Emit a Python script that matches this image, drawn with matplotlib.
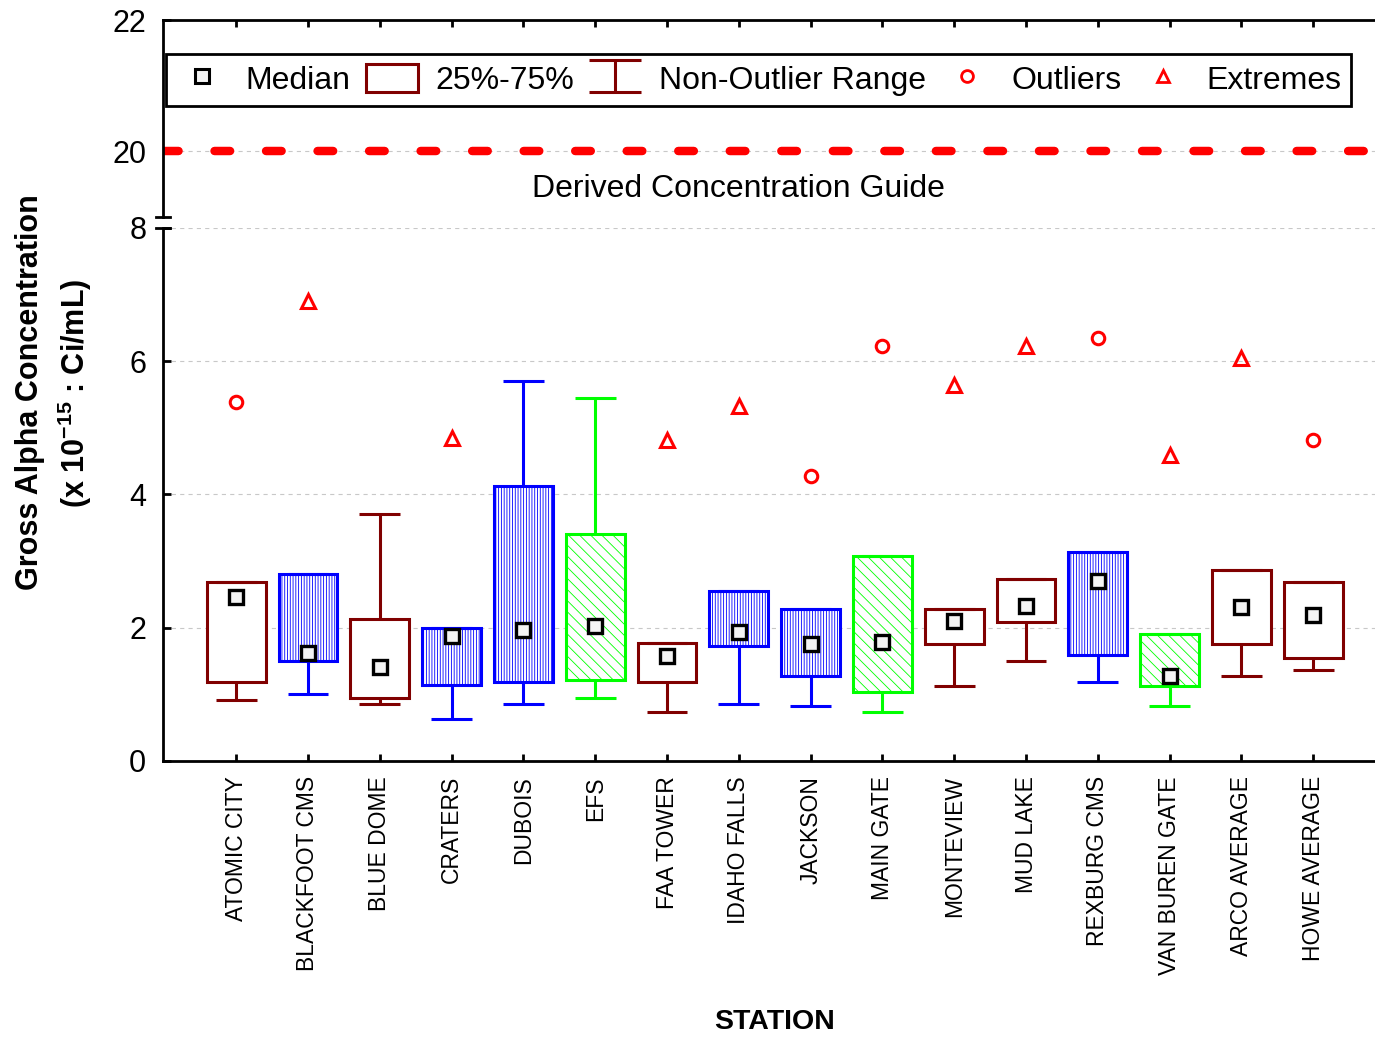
import matplotlib
matplotlib.use('Agg')
import matplotlib.pyplot as plt
from matplotlib.lines import Line2D
from matplotlib.patches import Patch
from matplotlib.path import Path

plt.rcParams['font.family'] = ['Liberation Sans', 'DejaVu Sans']
plt.rcParams['mathtext.fontset'] = 'custom'
plt.rcParams['mathtext.rm'] = 'Liberation Sans'
plt.rcParams['mathtext.bf'] = 'Liberation Sans:bold'
plt.rcParams['hatch.linewidth'] = 0.6
plt.rcParams['lines.scale_dashes'] = False

# station statistics (x 1e-15 uCi/mL)
stations = ['ATOMIC CITY', 'BLACKFOOT CMS', 'BLUE DOME', 'CRATERS', 'DUBOIS', 'EFS',
            'FAA TOWER', 'IDAHO FALLS', 'JACKSON', 'MAIN GATE', 'MONTEVIEW', 'MUD LAKE',
            'REXBURG CMS', 'VAN BUREN GATE', 'ARCO AVERAGE', 'HOWE AVERAGE']
q1 = [1.18, 1.50, 0.95, 1.14, 1.18, 1.22, 1.18, 1.72, 1.27, 1.04, 1.76, 2.08, 1.59, 1.13, 1.76, 1.54]
med = [2.46, 1.62, 1.41, 1.88, 1.97, 2.02, 1.57, 1.93, 1.75, 1.79, 2.10, 2.33, 2.70, 1.27, 2.31, 2.19]
q3 = [2.68, 2.81, 2.13, 2.00, 4.12, 3.40, 1.77, 2.55, 2.28, 3.08, 2.28, 2.73, 3.13, 1.90, 2.86, 2.68]
whis_lo = [0.91, 1.00, 0.86, 0.63, 0.86, 0.95, 0.73, 0.86, 0.82, 0.73, 1.13, 1.50, 1.18, 0.82, 1.27, 1.36]
whis_hi = [2.68, 2.81, 3.71, 2.00, 5.71, 5.44, 1.77, 2.55, 2.28, 3.08, 2.28, 2.73, 3.13, 1.90, 2.86, 2.68]
group = ['M', 'B', 'M', 'B', 'B', 'G', 'M', 'B', 'B', 'G', 'M', 'M', 'B', 'G', 'M', 'M']

outlier_pos = [1, 9, 10, 13, 16]
outlier_val = [5.38, 4.28, 6.23, 6.35, 4.82]
extreme_pos = [2, 4, 7, 8, 11, 12, 14, 15]
extreme_val = [6.91, 4.85, 4.82, 5.33, 5.65, 6.23, 4.59, 6.05]

dcg = 20

edge = {'M': '#800000', 'B': '#0000ff', 'G': '#00ff00'}
hatch = {'M': None, 'B': '||||||', 'G': '\\\\\\'}
maroon = '#800000'

fig = plt.figure(figsize=(13.75, 10.37), dpi=100)
ax_top = fig.add_axes([0.1185, 0.7907, 0.8815, 0.1900])
ax = fig.add_axes([0.1185, 0.2662, 0.8815, 0.5140])

positions = list(range(1, len(stations) + 1))
for a in (ax_top, ax):
    a.set_xlim(-0.02, 16.86)
    a.set_xticks(positions)
    a.set_axisbelow(True)
    a.yaxis.grid(True, color='#c8c8c8', linestyle=(0, (3, 3)), linewidth=0.8)
    for s in a.spines.values():
        s.set_linewidth(2)

# ---- top panel (DCG) ----
ax_top.set_ylim(19, 22)
ax_top.set_yticks([20, 22])
ax_top.spines['bottom'].set_visible(False)
ax_top.spines['right'].set_visible(False)
ax_top.tick_params(axis='x', direction='in', top=True, bottom=False, labelbottom=False,
                   length=5, width=2)
ax_top.tick_params(axis='y', direction='in', length=6, width=2, labelsize=22, pad=12)
ax_top.axhline(dcg, color='#ff0000', linewidth=6.1, linestyle=(0, (11.2, 25.9)),
               dash_capstyle='round')
ax_top.text(8.0, 19.43, 'Derived Concentration Guide', ha='center', va='center', fontsize=23)

# ---- bottom panel (box plot) ----
ax.set_ylim(0, 8)
ax.set_yticks([0, 2, 4, 6, 8])
ax.spines['top'].set_visible(False)
ax.spines['right'].set_visible(False)
ax.tick_params(axis='x', direction='in', length=5, width=2, labelsize=16.5, pad=11)
ax.tick_params(axis='y', direction='in', length=6, width=2, labelsize=22, pad=12)
ax.set_xticklabels(stations, rotation=90)

stats = []
for i in range(len(stations)):
    stats.append({'med': med[i], 'q1': q1[i], 'q3': q3[i],
                  'whislo': whis_lo[i], 'whishi': whis_hi[i], 'label': stations[i]})

bp = ax.bxp(stats, positions=positions, widths=0.82, capwidths=0.57, patch_artist=True,
            showfliers=False, manage_ticks=False,
            boxprops=dict(linewidth=2.2), whiskerprops=dict(linewidth=2.2),
            capprops=dict(linewidth=2.2), medianprops=dict(linewidth=0))
for i, g in enumerate(group):
    box = bp['boxes'][i]
    box.set_facecolor('white')
    box.set_edgecolor(edge[g])
    if hatch[g]:
        box.set_hatch(hatch[g])
    for part in ('whiskers', 'caps'):
        for ln in bp[part][2 * i:2 * i + 2]:
            ln.set_color(edge[g])
            ln.set_solid_capstyle('butt')

ax.plot(positions, med, ls='none', marker='s', ms=10.5, mfc='#f4f4f4', mec='black', mew=2.4, zorder=5)
ax.plot(outlier_pos, outlier_val, ls='none', marker='o', ms=9, mfc='none', mec='#ff0000', mew=2.2)
ax.plot(extreme_pos, extreme_val, ls='none', marker='^', ms=9.5, mfc='none', mec='#ff0000', mew=2.2)

# break marks on the y axis
ax_top.plot([-0.006, 0.006], [0, 0], transform=ax_top.transAxes, color='black', lw=2, clip_on=False)
ax.plot([-0.006, 0.006], [1, 1], transform=ax.transAxes, color='black', lw=2, clip_on=False)

# legend
ibeam = Path([(-1, -0.62), (1, -0.62), (0, -0.62), (0, 0.62), (-1, 0.62), (1, 0.62)],
             [Path.MOVETO, Path.LINETO, Path.MOVETO, Path.LINETO, Path.MOVETO, Path.LINETO])
handles = [
    Line2D([], [], ls='none', marker='s', ms=10, mfc='#f4f4f4', mec='black', mew=2.2),
    Patch(facecolor='white', edgecolor=maroon, linewidth=2.2),
    Line2D([], [], ls='none', marker=ibeam, ms=37, mec=maroon, mew=2.2),
    Line2D([], [], ls='none', marker='o', ms=8.5, mfc='none', mec='#ff0000', mew=2),
    Line2D([], [], ls='none', marker='^', ms=9, mfc='none', mec='#ff0000', mew=2),
]
labels = ['Median', '25%-75%', 'Non-Outlier Range', 'Outliers', 'Extremes']
leg = ax_top.legend(handles, labels, ncol=5, loc='center', bbox_to_anchor=(0.5516, 0.9229),
                    bbox_transform=fig.transFigure, fontsize=23, frameon=True, fancybox=False,
                    edgecolor='black', framealpha=1, handlelength=1.63, handleheight=1.0,
                    handletextpad=0.55, columnspacing=0.48, borderpad=0.32, borderaxespad=0)
leg.get_frame().set_linewidth(2)

fig.text(30 / 1375, 1 - 392 / 1037, 'Gross Alpha Concentration', rotation=90,
         ha='center', va='center', fontsize=22, fontweight='bold')
fig.text(75 / 1375, 1 - 393 / 1037, r'(x 10$^{\mathbf{-15}}$ : Ci/mL)', rotation=90,
         ha='center', va='center', fontsize=22, fontweight='bold')
fig.text(775 / 1375, 1 - 1022 / 1037, 'STATION', ha='center', va='center',
         fontsize=20.5, fontweight='bold')

fig.savefig('out.png', dpi=100)
